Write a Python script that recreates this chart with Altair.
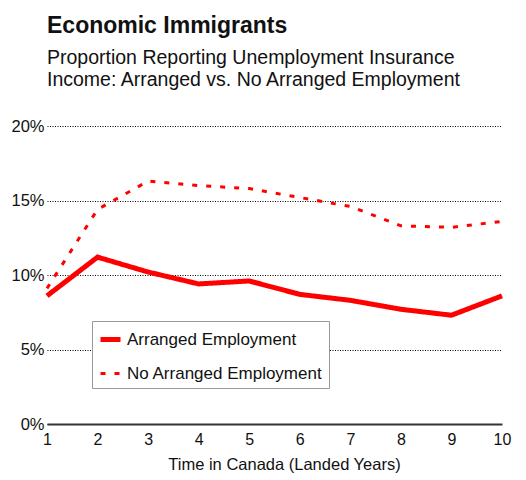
import altair as alt
import pandas as pd

years = [1, 2, 3, 4, 5, 6, 7, 8, 9, 10]
arranged = [8.6, 11.2, 10.2, 9.4, 9.6, 8.7, 8.3, 7.7, 7.3, 8.6]
no_arranged = [9.1, 14.4, 16.3, 16.0, 15.8, 15.2, 14.6, 13.3, 13.2, 13.6]
series_names = ["Arranged Employment", "No Arranged Employment"]
y_ticks = [0, 5, 10, 15, 20]

rows = []
for yr, v in zip(years, arranged):
    rows.append({"year": yr, "value": v, "series": series_names[0]})
for yr, v in zip(years, no_arranged):
    rows.append({"year": yr, "value": v, "series": series_names[1]})
df = pd.DataFrame(rows)

FONT = "Liberation Sans"

chart = alt.Chart(df).mark_line(strokeCap="butt", strokeJoin="miter").encode(
    x=alt.X("year:Q",
            scale=alt.Scale(domain=[1, 10], nice=False, zero=False),
            axis=alt.Axis(values=years, title="Time in Canada (Landed Years)",
                          grid=False, ticks=False, tickSize=0, labelPadding=7,
                          labelFontSize=16, labelFont=FONT, labelColor="#111",
                          labelFlush=False,
                          titleFontSize=16.5, titleFont=FONT, titleFontWeight="normal",
                          titleColor="#111", titlePadding=9, titleX=237,
                          domain=True, domainColor="#333", domainWidth=2)),
    y=alt.Y("value:Q",
            scale=alt.Scale(domain=[0, 20], nice=False),
            axis=alt.Axis(values=y_ticks, title=None, labelExpr="datum.value + '%'",
                          grid=True, gridColor="#000", gridDash=[1, 1.5], gridWidth=1,
                          domain=False, ticks=False, tickSize=0, labelPadding=3,
                          labelFontSize=16.5, labelFont=FONT, labelColor="#111")),
    color=alt.Color("series:N", scale=alt.Scale(domain=series_names, range=["#ff0000", "#ff0000"]),
                    legend=alt.Legend(title=None)),
    strokeDash=alt.StrokeDash("series:N", scale=alt.Scale(domain=series_names, range=[[1, 0], [5, 9]]),
                              legend=alt.Legend(title=None)),
    strokeWidth=alt.StrokeWidth("series:N", scale=alt.Scale(domain=series_names, range=[5, 3]),
                                legend=alt.Legend(title=None)),
).properties(
    width=455,
    height=298,
    autosize=alt.AutoSizeParams(type="none"),
    padding={"left": 39, "top": 118, "right": 16, "bottom": 56},
    title=alt.TitleParams(
        text="Economic Immigrants",
        subtitle=["Proportion Reporting Unemployment Insurance",
                  "Income: Arranged vs. No Arranged Employment"],
        anchor="start", frame="group", offset=29,
        font=FONT, fontSize=23, fontWeight="bold", color="#111",
        subtitleFont=FONT, subtitleFontSize=19.5, subtitleColor="#111",
        subtitleLineHeight=22, subtitlePadding=11,
    ),
).configure_view(stroke=None).configure_legend(
    orient="none", legendX=45, legendY=195,
    strokeColor="#999", fillColor="white", padding=6,
    labelFont=FONT, labelFontSize=17, labelColor="#111", labelLimit=0,
    symbolType="stroke", symbolSize=400, labelOffset=4, rowPadding=12,
)

chart.save("out.html", embed_options={"renderer": "svg", "actions": False})
